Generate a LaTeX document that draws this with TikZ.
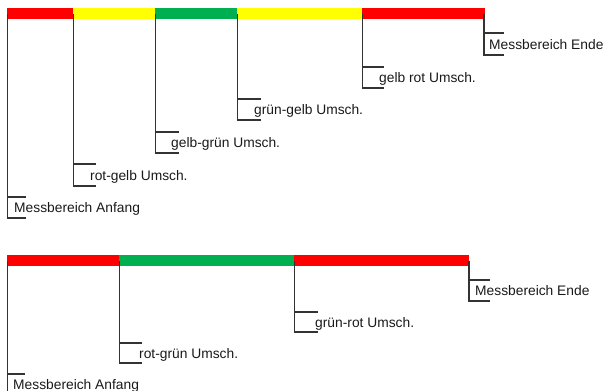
\documentclass[tikz,border=0pt]{standalone}
\usepackage{fontspec}
\setmainfont{Liberation Sans}
\definecolor{barred}{HTML}{FF0000}
\definecolor{baryellow}{HTML}{FFFF00}
\definecolor{bargreen}{HTML}{00B050}
\newcommand\lev[8]{%
  \coordinate (#1s) at (#2,#3);
  \coordinate (#1t) at (#2,#4);
  \coordinate (#1b) at (#2,#5);
  \coordinate (#1te) at (#6,#4);
  \coordinate (#1be) at (#6,#5);
  \node[lbl] (#1l) at (#7,{(#4+#5)/2+5}) {#8};
  \draw[tick] (#1s) -- (#1b) -- (#1be);
  \draw[tick] (#1t) -- (#1te);
}
\begin{document}
\begin{tikzpicture}[x=1pt,y=-1pt,
  lbl/.style={anchor=base west,inner sep=0pt,font=\fontsize{13.8}{16}\selectfont,text=black!90},
  tick/.style={draw=black!80,line width=1.4pt}]
\useasboundingbox (0,0) rectangle (603,391);
% top bar
\fill[barred]    (7,8)   rectangle (73,19);
\fill[baryellow] (73,8)  rectangle (155,19);
\fill[bargreen]  (155,8) rectangle (237,19);
\fill[baryellow] (237,8) rectangle (362,19);
\fill[barred]    (362,8) rectangle (485,19);
% bottom bar
\fill[barred]    (7,255)   rectangle (119,266);
\fill[bargreen]  (119,255) rectangle (294,266);
\fill[barred]    (294,255) rectangle (469,266);
% top levels
\lev{a}{7.7}{14}{197}{218}{26}{14}{Messbereich Anfang}
\lev{b}{73.7}{14}{164}{186}{96}{90}{rot-gelb Umsch.}
\lev{c}{155.7}{14}{132}{153}{179}{171}{gelb-grün Umsch.}
\lev{d}{237.7}{14}{99}{120}{261}{254}{grün-gelb Umsch.}
\lev{e}{362.7}{14}{67}{88}{384}{379}{gelb rot Umsch.}
\lev{f}{484}{14}{33}{55}{504}{489}{Messbereich Ende}
% bottom levels
\lev{g}{7.7}{261}{374}{395}{25}{13}{Messbereich Anfang}
\lev{h}{119.7}{261}{343}{363}{142}{139}{rot-grün Umsch.}
\lev{i}{294.7}{261}{312}{332}{318}{315}{grün-rot Umsch.}
\lev{j}{469}{261}{280}{301}{490}{475}{Messbereich Ende}
\end{tikzpicture}
\end{document}
